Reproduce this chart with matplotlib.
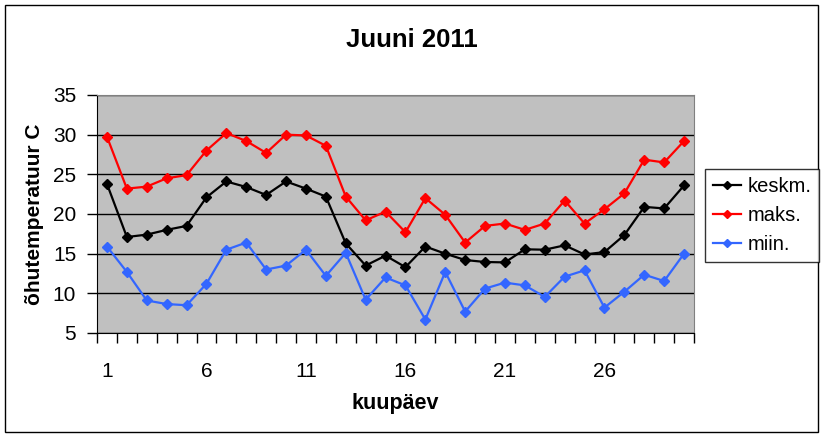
import matplotlib
matplotlib.use('Agg')
import matplotlib.pyplot as plt
import numpy as np

plt.rcParams['font.family'] = ['Liberation Sans', 'DejaVu Sans']

# daily values, June 2011
days = list(range(1, 31))
keskm = [23.8, 17.1, 17.4, 18.0, 18.5, 22.1, 24.1, 23.4, 22.4, 24.1,
         23.2, 22.2, 16.3, 13.5, 14.75, 13.3, 15.9, 15.0, 14.2, 13.95,
         13.9, 15.55, 15.5, 16.05, 14.9, 15.2, 17.35, 20.9, 20.7, 23.6]
maks = [29.75, 23.2, 23.45, 24.5, 24.9, 28.0, 30.2, 29.2, 27.7, 30.0,
        29.9, 28.6, 22.2, 19.2, 20.3, 17.7, 22.0, 19.9, 16.4, 18.5,
        18.8, 18.0, 18.8, 21.7, 18.8, 20.6, 22.6, 26.85, 26.5, 29.2]
miin = [15.9, 12.7, 9.1, 8.65, 8.5, 11.2, 15.5, 16.4, 13.0, 13.5,
        15.5, 12.2, 15.1, 9.2, 12.0, 11.0, 6.7, 12.7, 7.7, 10.6,
        11.35, 11.0, 9.55, 12.1, 12.9, 8.2, 10.2, 12.35, 11.55, 15.0]
series_names = ['keskm.', 'maks.', 'miin.']
colors = ['#000000', '#FF0000', '#3366FF']

W, H = 824, 437
fig = plt.figure(figsize=(W / 100, H / 100), dpi=100)
ax = fig.add_axes([97 / W, 1 - 333 / H, (694 - 97) / W, (333 - 95) / H])
ax.set_facecolor('#C0C0C0')

for vals, name, c in zip([keskm, maks, miin], series_names, colors):
    ax.plot(days, vals, color=c, lw=1.6, marker='D', ms=4.8, label=name)

ax.set_xlim(0.5, 30.5)
ax.set_ylim(5, 35)
ax.set_yticks(range(5, 36, 5))
ax.set_xticks(np.arange(0.5, 31, 1), minor=False)
ax.set_xticklabels([])
ax.set_xticks(days[::5], minor=True)
ax.set_xticklabels([str(d) for d in days[::5]], minor=True)
ax.tick_params(axis='x', which='minor', length=0, pad=21, labelsize=15)
ax.tick_params(axis='x', which='major', length=7, width=1, direction='out')
ax.tick_params(axis='y', length=7, width=1, direction='out', pad=8, labelsize=15)
ax.yaxis.grid(True, color='black', lw=1)
ax.set_axisbelow(True)

for s in ['top', 'right']:
    ax.spines[s].set_color('#808080')
for s in ['left', 'bottom']:
    ax.spines[s].set_color('black')

fig.text(412 / W, 1 - 40 / H, 'Juuni 2011', ha='center', va='center',
         fontsize=18.5, fontweight='bold')
fig.text(395 / W, 1 - 403 / H, 'kuupäev', ha='center', va='center',
         fontsize=15.5, fontweight='bold')
fig.text(35 / W, 1 - 214 / H, 'õhutemperatuur C', ha='center', va='center',
         rotation=90, fontsize=15, fontweight='bold')

leg = fig.legend(loc='upper left', bbox_to_anchor=(705 / W, 1 - 169 / H),
                 fontsize=14.5, frameon=True, fancybox=False, borderaxespad=0,
                 handlelength=1.4, handletextpad=0.3, borderpad=0.4,
                 markerscale=0.8, labelspacing=0.5)
leg.get_frame().set_edgecolor('black')
leg.get_frame().set_linewidth(1)

# outer chart border
fig.patches.append(plt.Rectangle((5 / W, 5 / H), (818 - 5) / W, (432 - 5) / H,
                                 transform=fig.transFigure, fill=False,
                                 edgecolor='black', lw=1))

fig.savefig('out.png', dpi=100)
